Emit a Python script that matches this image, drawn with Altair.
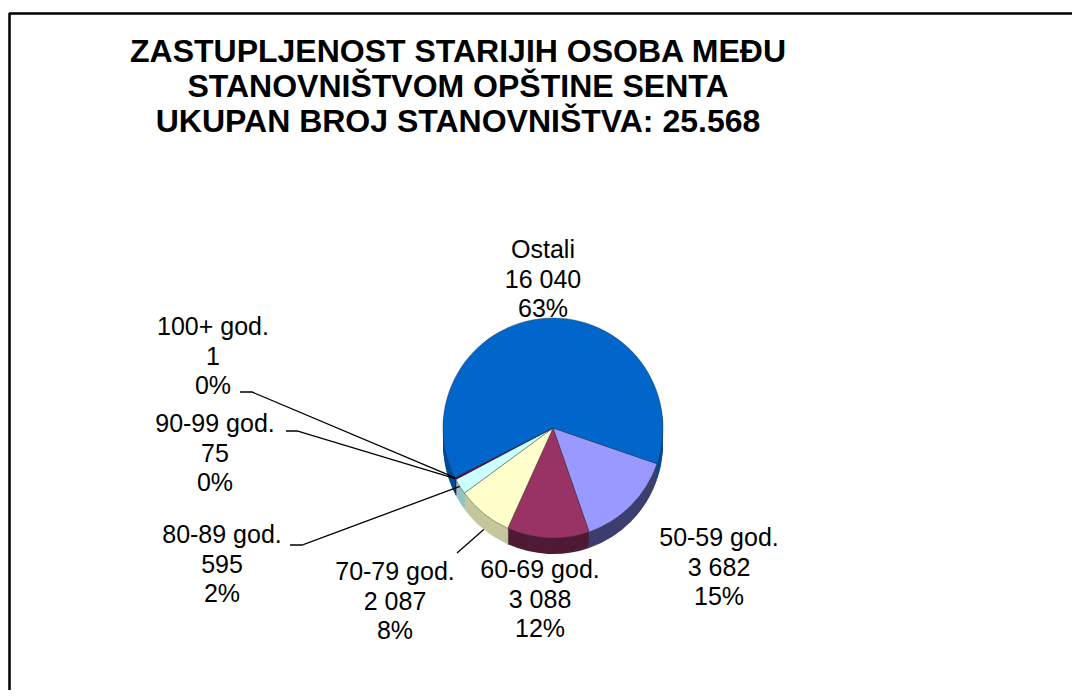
import math
import numpy as np
import pandas as pd
import altair as alt

# ---------------- data ----------------
categories = ["50-59 god.", "60-69 god.", "70-79 god.", "80-89 god.", "90-99 god.", "100+ god.", "Ostali"]
values = [3682, 3088, 2087, 595, 75, 1, 16040]
pct_labels = ["15%", "12%", "8%", "2%", "0%", "0%", "63%"]
title_lines = ["ZASTUPLJENOST STARIJIH OSOBA MEĐU",
               "STANOVNIŠTVOM OPŠTINE SENTA",
               "UKUPAN BROJ STANOVNIŠTVA: 25.568"]

# ---------------- styles / layout ----------------
top_colors = ["#9999FF", "#993366", "#FFFFCC", "#CCFFFF", "#660066", "#FF8080", "#0066CC"]
side_colors = ["#3D3D70", "#4F1A35", "#C6C69C", "#93C4C4", "#330033", "#B05050", "#004C99"]
W, H = 1064, 682
CX, CY, R, DEPTH = 545, 420, 110, 16
START = math.radians(109)
FONT = "Liberation Sans"
# label anchor (center x, first baseline y) in view pixels
label_pos = {
    "50-59 god.": (711, 538),
    "60-69 god.": (532, 570),
    "70-79 god.": (387, 572),
    "80-89 god.": (214, 535),
    "90-99 god.": (207, 424),
    "100+ god.": (205, 327),
    "Ostali": (535, 250),
}
# leader stubs near the labels (label end points)
leader_stub = {
    "100+ god.": [(232, 384), (244, 384)],
    "90-99 god.": [(278, 423), (289, 423)],
    "80-89 god.": [(282, 537), (294, 537)],
    "70-79 god.": [(449, 545)],
}

total = sum(values)
pie = pd.DataFrame({
    "category": categories,
    "value": values,
    "idx": list(range(len(categories))),
    "top": top_colors,
    "side": side_colors,
})

theta = alt.Theta("value:Q", stack=True,
                  scale=alt.Scale(range=[START, START + 2 * math.pi]))

layers = []
for d in range(DEPTH, 0, -2):
    layers.append(
        alt.Chart(pie).mark_arc(outerRadius=R, strokeWidth=0).encode(
            theta=theta,
            order=alt.Order("idx:Q"),
            color=alt.Color("side:N", scale=None),
            x=alt.value(CX), y=alt.value(CY + d),
        )
    )
layers.append(
    alt.Chart(pie).mark_arc(outerRadius=R, stroke="#333333", strokeWidth=0.6,
                            strokeOpacity=0.7).encode(
        theta=theta,
        order=alt.Order("idx:Q"),
        color=alt.Color("top:N", scale=None),
        x=alt.value(CX), y=alt.value(CY),
    )
)

# labels
lab = pd.DataFrame({
    "text": [f"{c}\n{v:,}".replace(",", " ") + f"\n{p}"
             for c, v, p in zip(categories, values, pct_labels)],
    "lx": [label_pos[c][0] for c in categories],
    "ly": [label_pos[c][1] for c in categories],
})
layers.append(
    alt.Chart(lab).mark_text(align="center", baseline="alphabetic", lineBreak="\n",
                             lineHeight=29.5, fontSize=25, font=FONT, color="black").encode(
        x=alt.X("lx:Q", scale=None, axis=None),
        y=alt.Y("ly:Q", scale=None, axis=None),
        text="text:N",
    )
)

# leader lines: from label stub to the slice rim at its mid angle
cum = np.cumsum(values)
rows = []
for i, c in enumerate(categories):
    if c not in leader_stub:
        continue
    mid = START + 2 * math.pi * (cum[i] - values[i] / 2) / total
    px = CX + R * math.sin(mid)
    py = CY - R * math.cos(mid) + (DEPTH if c == "70-79 god." else 0)
    pts = leader_stub[c] + [(px, py)]
    for k, (x, y) in enumerate(pts):
        rows.append({"cat": c, "k": k, "x": x, "y": y})
lead = pd.DataFrame(rows)
layers.append(
    alt.Chart(lead).mark_line(color="black", strokeWidth=1.3).encode(
        x=alt.X("x:Q", scale=None, axis=None),
        y=alt.Y("y:Q", scale=None, axis=None),
        detail="cat:N",
        order="k:Q",
    )
)

# title
layers.append(
    alt.Chart(pd.DataFrame({"t": ["\n".join(title_lines)]})).mark_text(
        align="center", baseline="alphabetic", lineBreak="\n", lineHeight=35,
        fontSize=32, fontWeight="bold", font=FONT, color="black").encode(
        x=alt.value(450), y=alt.value(54), text="t:N")
)

# frame (top and left edges visible in reference)
layers.append(alt.Chart(pd.DataFrame({"a": [0]})).mark_rule(color="black", strokeWidth=2.5).encode(
    x=alt.value(1), x2=alt.value(W), y=alt.value(5.5)))
layers.append(alt.Chart(pd.DataFrame({"a": [0]})).mark_rule(color="black", strokeWidth=2.5).encode(
    x=alt.value(1.5), y=alt.value(5), y2=alt.value(H)))

chart = alt.layer(*layers).properties(
    width=W, height=H, padding=0, autosize=alt.AutoSizeParams(type="none"),
    background="white",
).configure_view(stroke=None)

chart.save("out.html", embed_options={"renderer": "svg", "actions": False})
